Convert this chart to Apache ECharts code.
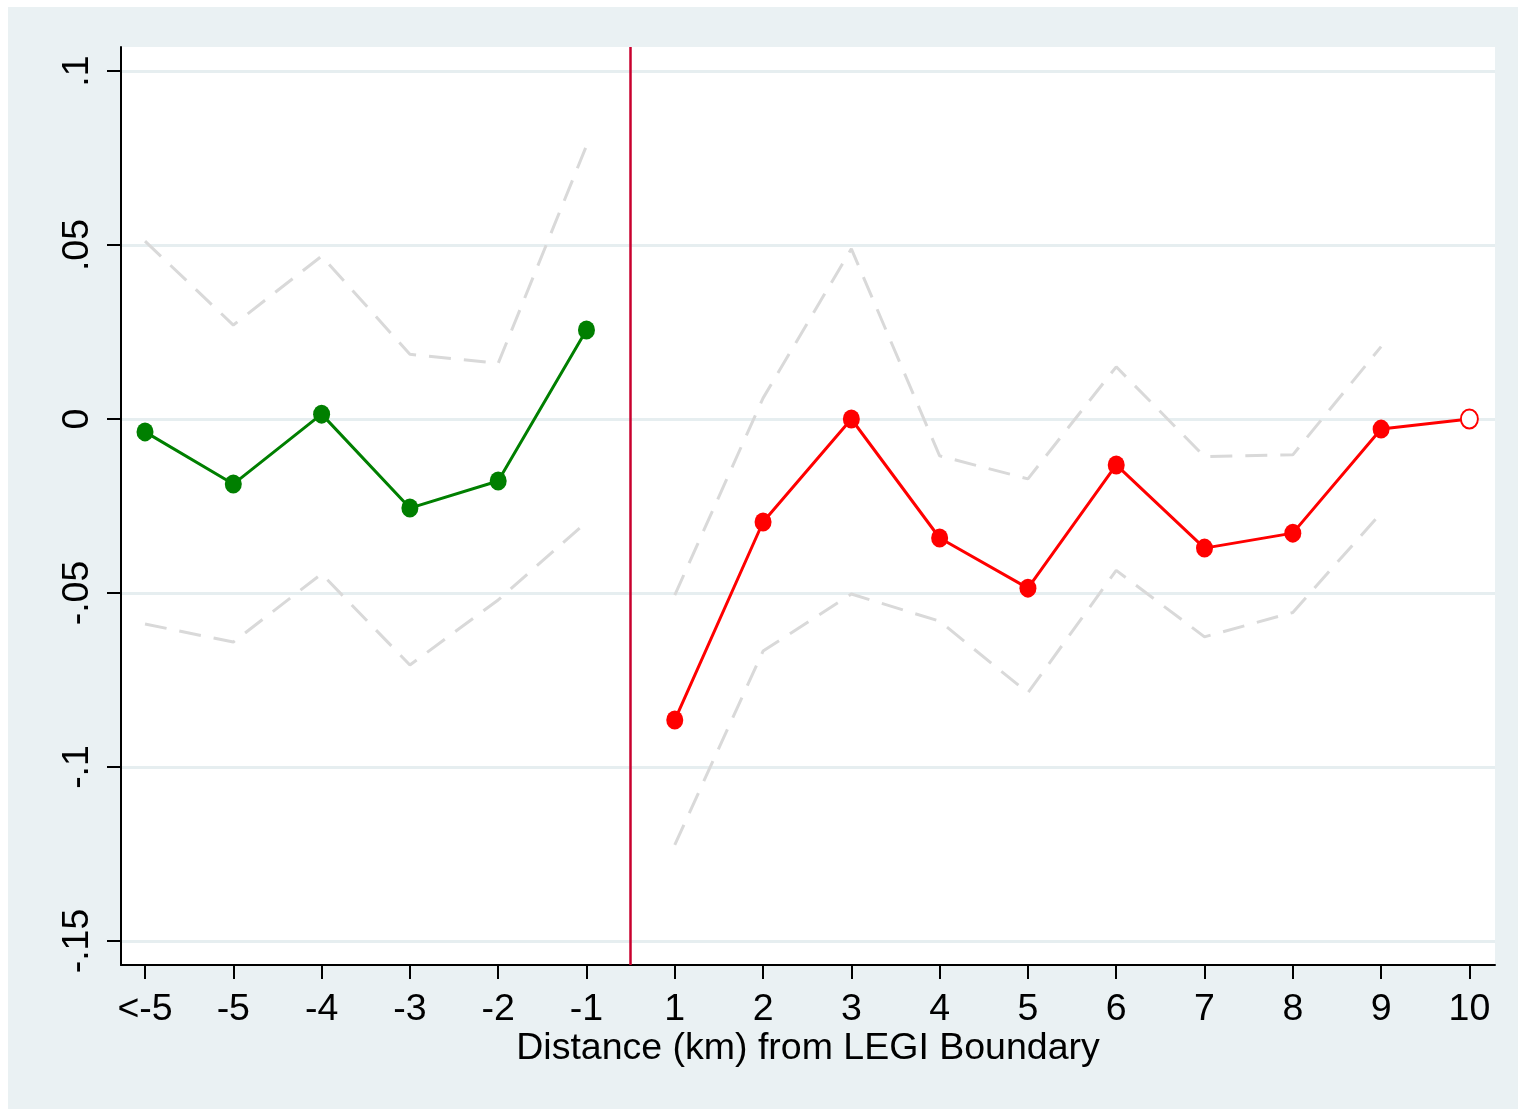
<!DOCTYPE html>
<html>
<head>
<meta charset="utf-8">
<script src="https://cdn.jsdelivr.net/npm/echarts@6/dist/echarts.min.js"></script>
<style>
html,body{margin:0;padding:0;background:#ffffff;width:1518px;height:1109px;overflow:hidden;}
#chart{position:absolute;left:8px;top:7px;width:1510px;height:1102px;}
</style>
</head>
<body>
<div id="chart"></div>
<script>
// ---- data ----
const xLabels = ['<-5','-5','-4','-3','-2','-1','1','2','3','4','5','6','7','8','9','10'];
const yTicks = [-0.15,-0.1,-0.05,0,0.05,0.1];
const yTickLabels = ['-.15','-.1','-.05','0','.05','.1'];
const greenEst   = [-0.0037,-0.0187, 0.0014,-0.0256,-0.0178, 0.0256];
const greenUpper = [ 0.0511, 0.0270, 0.0468, 0.0186, 0.0160, 0.0785];
const greenLower = [-0.0589,-0.0641,-0.0445,-0.0707,-0.0520,-0.0296];
const redEst   = [-0.0865,-0.0296, 0.0000,-0.0342,-0.0486,-0.0132,-0.0371,-0.0328,-0.0029, 0.0000];
const redUpper = [-0.0506, 0.0060, 0.0489,-0.0106,-0.0172, 0.0150,-0.0108,-0.0103, 0.0208];
const redLower = [-0.1224,-0.0667,-0.0503,-0.0581,-0.0787,-0.0435,-0.0626,-0.0556,-0.0270];
const cutoff = 5.5;

// ---- build ----
const greenStart = 0, redStart = 6;
const pts = (arr, start) => arr.map((v,i)=>[start+i, v]);
const xTickVals = xLabels.map((_,i)=>i);
const FONT = '"Liberation Sans", Arial, sans-serif';
const FS = 37.5;
const ciStyle = {color:'#d9d9d9', width:3, type:[22,13]};

const redData = pts(redEst, redStart).map((p,i,a)=> i===a.length-1
  ? {value:p, itemStyle:{color:'#ffffff', borderColor:'#ff0000', borderWidth:2}}
  : {value:p});

const chart = echarts.init(document.getElementById('chart'), null, {renderer:'canvas'});
chart.setOption({
  backgroundColor:'#eaf1f3',
  animation:false,
  grid:{left:113, top:40, right:23, bottom:144, show:true, backgroundColor:'#ffffff', borderWidth:0},
  xAxis:{
    type:'value', min:-0.272, max:15.29,
    name:'Distance (km) from LEGI Boundary', nameLocation:'middle', nameGap:65, nameMoveOverlap:false,
    nameTextStyle:{fontFamily:FONT, fontSize:FS, color:'#000'},
    axisLine:{show:true, onZero:false, lineStyle:{color:'#000', width:2}},
    axisTick:{show:true, length:14, customValues:xTickVals, lineStyle:{color:'#000', width:2}},
    axisLabel:{customValues:xTickVals, margin:26, fontFamily:FONT, fontSize:FS, color:'#000',
      formatter:(v)=>xLabels[Math.round(v)]},
    splitLine:{show:false}
  },
  yAxis:{
    type:'value', min:-0.1569, max:0.1069,
    axisLine:{show:true, onZero:false, lineStyle:{color:'#000', width:2}},
    axisTick:{show:true, length:14, customValues:yTicks, lineStyle:{color:'#000', width:2}},
    axisLabel:{customValues:yTicks, rotate:90, margin:24, fontFamily:FONT, fontSize:FS, color:'#000',
      formatter:(v)=>{const k=yTicks.findIndex(t=>Math.abs(t-v)<1e-9); return k>=0?yTickLabels[k]:'';}},
    splitLine:{show:true, lineStyle:{color:'#e6eef0', width:3}}
  },
  series:[
    {type:'line', data:pts(greenUpper,greenStart), symbol:'none', lineStyle:ciStyle, z:2, silent:true},
    {type:'line', data:pts(greenLower,greenStart), symbol:'none', lineStyle:ciStyle, z:2, silent:true},
    {type:'line', data:pts(redUpper,redStart), symbol:'none', lineStyle:ciStyle, z:2, silent:true},
    {type:'line', data:pts(redLower,redStart), symbol:'none', lineStyle:ciStyle, z:2, silent:true},
    {type:'line', data:pts(greenEst,greenStart), symbol:'circle', symbolSize:[17,19],
      itemStyle:{color:'#007f00'}, lineStyle:{color:'#007f00', width:3}, z:4},
    {type:'line', data:redData, symbol:'circle', symbolSize:[17,19],
      itemStyle:{color:'#ff0000'}, lineStyle:{color:'#ff0000', width:3}, z:4,
      markLine:{silent:true, symbol:'none', label:{show:false},
        lineStyle:{color:'#c8002e', width:2.5, type:'solid'},
        data:[{xAxis:cutoff}]}}
  ]
});
</script>
</body>
</html>
